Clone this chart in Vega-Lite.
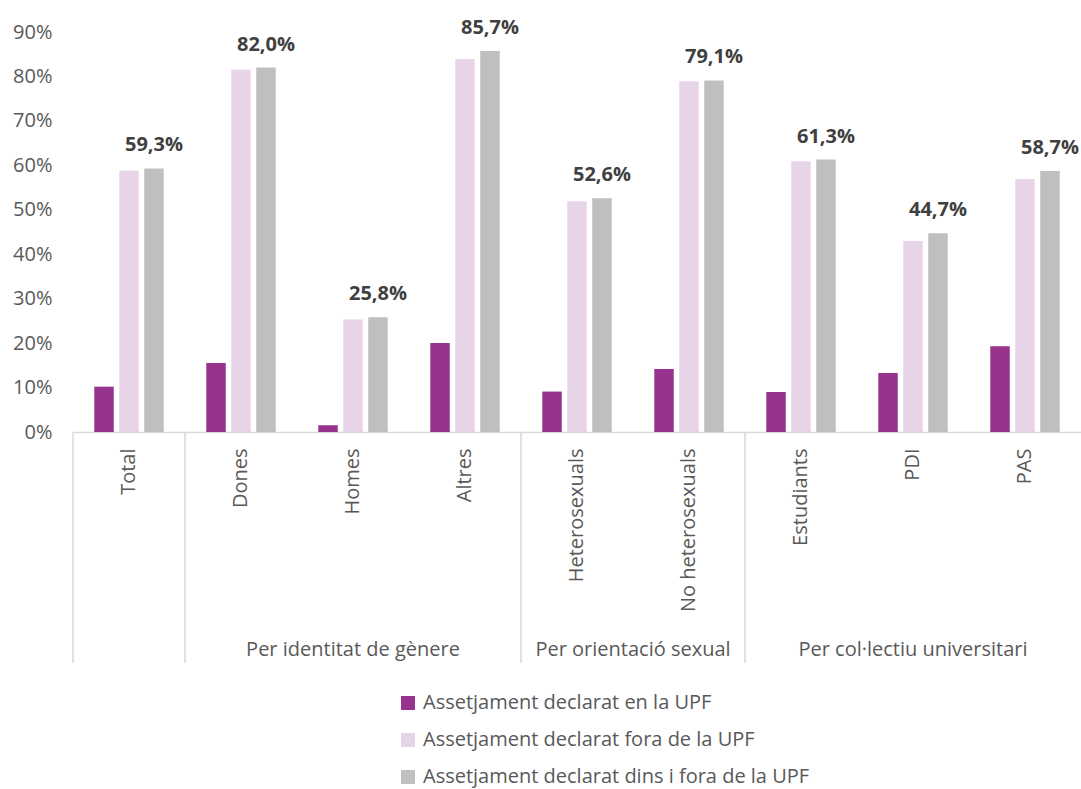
{
  "$schema": "https://vega.github.io/schema/vega-lite/v6.json",
  "width": 1008,
  "height": 400,
  "autosize": {"type": "none"},
  "padding": {"left": 73, "top": 32, "right": 0, "bottom": 357},
  "config": {
    "view": {"stroke": null},
    "font": "Open Sans",
    "locale": {"number": {"decimal": ",", "thousands": ".", "grouping": [3], "currency": ["", " €"]}}
  },
  "datasets": {
    "bars": [
      {"cat": "Total", "serie": "Assetjament declarat en la UPF", "value": 0.102},
      {"cat": "Total", "serie": "Assetjament declarat fora de la UPF", "value": 0.588},
      {"cat": "Total", "serie": "Assetjament declarat dins i fora de la UPF", "value": 0.593},
      {"cat": "Dones", "serie": "Assetjament declarat en la UPF", "value": 0.155},
      {"cat": "Dones", "serie": "Assetjament declarat fora de la UPF", "value": 0.815},
      {"cat": "Dones", "serie": "Assetjament declarat dins i fora de la UPF", "value": 0.820},
      {"cat": "Homes", "serie": "Assetjament declarat en la UPF", "value": 0.015},
      {"cat": "Homes", "serie": "Assetjament declarat fora de la UPF", "value": 0.253},
      {"cat": "Homes", "serie": "Assetjament declarat dins i fora de la UPF", "value": 0.258},
      {"cat": "Altres", "serie": "Assetjament declarat en la UPF", "value": 0.200},
      {"cat": "Altres", "serie": "Assetjament declarat fora de la UPF", "value": 0.839},
      {"cat": "Altres", "serie": "Assetjament declarat dins i fora de la UPF", "value": 0.857},
      {"cat": "Heterosexuals", "serie": "Assetjament declarat en la UPF", "value": 0.091},
      {"cat": "Heterosexuals", "serie": "Assetjament declarat fora de la UPF", "value": 0.519},
      {"cat": "Heterosexuals", "serie": "Assetjament declarat dins i fora de la UPF", "value": 0.526},
      {"cat": "No heterosexuals", "serie": "Assetjament declarat en la UPF", "value": 0.142},
      {"cat": "No heterosexuals", "serie": "Assetjament declarat fora de la UPF", "value": 0.789},
      {"cat": "No heterosexuals", "serie": "Assetjament declarat dins i fora de la UPF", "value": 0.791},
      {"cat": "Estudiants", "serie": "Assetjament declarat en la UPF", "value": 0.090},
      {"cat": "Estudiants", "serie": "Assetjament declarat fora de la UPF", "value": 0.609},
      {"cat": "Estudiants", "serie": "Assetjament declarat dins i fora de la UPF", "value": 0.613},
      {"cat": "PDI", "serie": "Assetjament declarat en la UPF", "value": 0.133},
      {"cat": "PDI", "serie": "Assetjament declarat fora de la UPF", "value": 0.430},
      {"cat": "PDI", "serie": "Assetjament declarat dins i fora de la UPF", "value": 0.447},
      {"cat": "PAS", "serie": "Assetjament declarat en la UPF", "value": 0.193},
      {"cat": "PAS", "serie": "Assetjament declarat fora de la UPF", "value": 0.569},
      {"cat": "PAS", "serie": "Assetjament declarat dins i fora de la UPF", "value": 0.587}
    ],
    "separators": [
      {"cat": "Total"}, {"cat": "Dones"}, {"cat": "Heterosexuals"}, {"cat": "Estudiants"}
    ],
    "groupsCentered": [
      {"cat": "Homes", "group": "Per identitat de gènere"},
      {"cat": "PDI", "group": "Per col·lectiu universitari"}
    ],
    "groupsBetween": [
      {"cat": "No heterosexuals", "group": "Per orientació sexual"}
    ]
  },
  "layer": [
    {
      "data": {"name": "bars"},
      "mark": {"type": "bar"},
      "encoding": {
        "x": {
          "field": "cat", "type": "nominal",
          "scale": {"domain": ["Total", "Dones", "Homes", "Altres", "Heterosexuals", "No heterosexuals", "Estudiants", "PDI", "PAS"], "paddingInner": 0.38, "paddingOuter": 0.19},
          "axis": {"title": null, "labelAngle": 270, "ticks": false, "labelPadding": 16, "labelFontSize": 20, "labelColor": "#595959", "labelFont": "Open Sans", "domainColor": "#D9D9D9", "domainWidth": 1.5, "labelLimit": 300}
        },
        "xOffset": {
          "field": "serie", "type": "nominal",
          "scale": {"domain": ["Assetjament declarat en la UPF", "Assetjament declarat fora de la UPF", "Assetjament declarat dins i fora de la UPF"], "paddingInner": 0.22, "paddingOuter": 0}
        },
        "y": {
          "field": "value", "type": "quantitative",
          "scale": {"domain": [0, 0.9]},
          "axis": {"title": null, "format": ".0%", "values": [0, 0.1, 0.2, 0.3, 0.4, 0.5, 0.6, 0.7, 0.8, 0.9], "grid": false, "domain": false, "ticks": false, "labelPadding": 21, "labelFontSize": 20, "labelColor": "#595959", "labelFont": "Open Sans"}
        },
        "color": {
          "field": "serie", "type": "nominal",
          "scale": {"domain": ["Assetjament declarat en la UPF", "Assetjament declarat fora de la UPF", "Assetjament declarat dins i fora de la UPF"], "range": ["#97328D", "#E8D4E8", "#BFBFBF"]},
          "legend": {"orient": "none", "legendX": 325, "legendY": 661, "direction": "vertical", "title": null, "symbolType": "square", "symbolSize": 196, "symbolStrokeWidth": 0, "labelFontSize": 20, "labelColor": "#595959", "labelFont": "Open Sans", "rowPadding": 17, "labelOffset": 5, "padding": 0, "labelLimit": 500}
        }
      }
    },
    {
      "data": {"name": "bars"},
      "transform": [{"filter": "datum.serie === 'Assetjament declarat dins i fora de la UPF'"}],
      "mark": {"type": "text", "fontWeight": "bold", "fontSize": 20, "color": "#404040", "baseline": "alphabetic", "dy": -17, "font": "Open Sans"},
      "encoding": {
        "x": {"field": "cat", "type": "nominal", "scale": {"domain": ["Total", "Dones", "Homes", "Altres", "Heterosexuals", "No heterosexuals", "Estudiants", "PDI", "PAS"]}},
        "xOffset": {"field": "serie", "type": "nominal", "scale": {"domain": ["Assetjament declarat en la UPF", "Assetjament declarat fora de la UPF", "Assetjament declarat dins i fora de la UPF"]}},
        "y": {"field": "value", "type": "quantitative"},
        "text": {"field": "value", "type": "quantitative", "format": ".1%"}
      }
    },
    {
      "data": {"name": "separators"},
      "mark": {"type": "rule", "color": "#D9D9D9", "strokeWidth": 1.5},
      "encoding": {
        "x": {"field": "cat", "type": "nominal", "bandPosition": -0.3065, "scale": {"domain": ["Total", "Dones", "Homes", "Altres", "Heterosexuals", "No heterosexuals", "Estudiants", "PDI", "PAS"]}},
        "y": {"datum": 0},
        "y2": {"datum": -0.52}
      }
    },
    {
      "data": {"name": "groupsCentered"},
      "mark": {"type": "text", "fontSize": 20, "color": "#595959", "baseline": "middle", "font": "Open Sans"},
      "encoding": {
        "x": {"field": "cat", "type": "nominal", "bandPosition": 0.5, "scale": {"domain": ["Total", "Dones", "Homes", "Altres", "Heterosexuals", "No heterosexuals", "Estudiants", "PDI", "PAS"]}},
        "y": {"datum": -0.49},
        "text": {"field": "group"}
      }
    },
    {
      "data": {"name": "groupsBetween"},
      "mark": {"type": "text", "fontSize": 20, "color": "#595959", "baseline": "middle", "font": "Open Sans"},
      "encoding": {
        "x": {"field": "cat", "type": "nominal", "bandPosition": -0.3065, "scale": {"domain": ["Total", "Dones", "Homes", "Altres", "Heterosexuals", "No heterosexuals", "Estudiants", "PDI", "PAS"]}},
        "y": {"datum": -0.49},
        "text": {"field": "group"}
      }
    }
  ]
}
